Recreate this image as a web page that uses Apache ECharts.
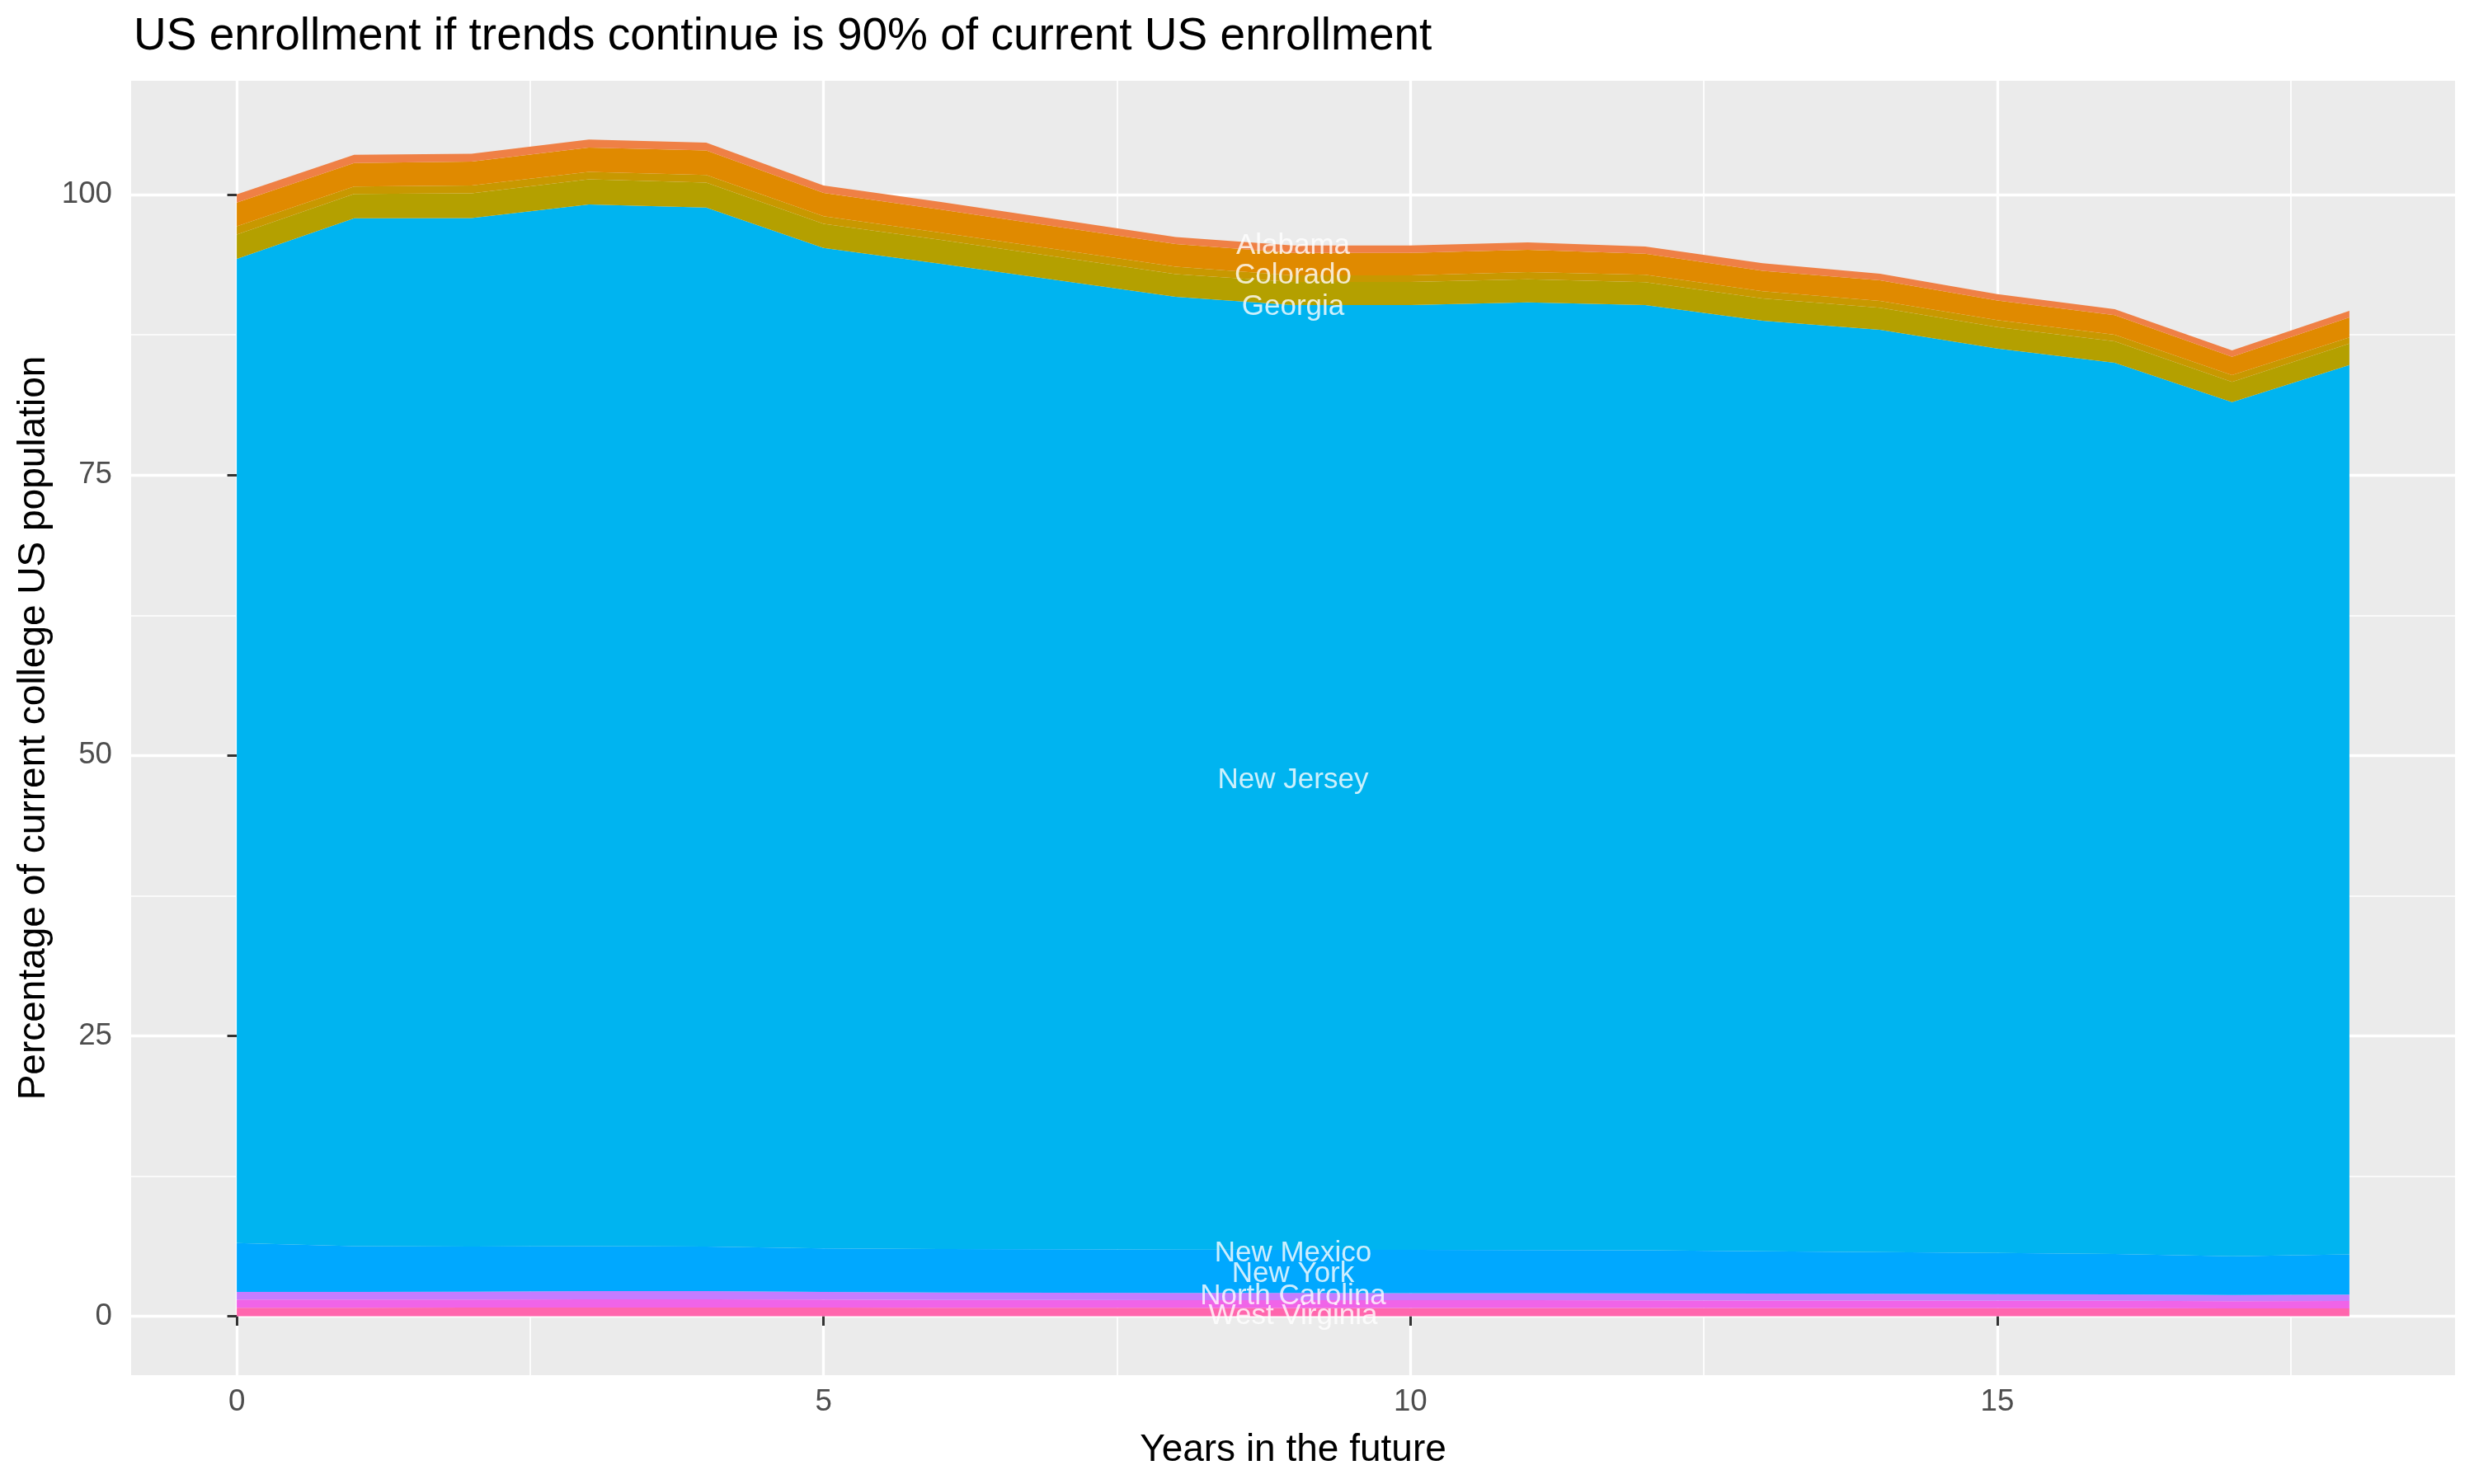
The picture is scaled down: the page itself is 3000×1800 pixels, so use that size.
<!DOCTYPE html>
<html>
<head>
<meta charset="utf-8">
<script src="https://cdn.jsdelivr.net/npm/echarts@6/dist/echarts.min.js"></script>
<style>
html,body{margin:0;padding:0;background:#fff;}
#chart{width:3000px;height:1800px;}
</style>
</head>
<body>
<div id="chart"></div>
<script>
// ---- data ----
const years = [0,1,2,3,4,5,6,7,8,9,10,11,12,13,14,15,16,17,18];

// stacked bands, bottom to top
const westVirginia  = [0.76,0.76,0.77,0.78,0.78,0.77,0.76,0.75,0.75,0.74,0.74,0.74,0.74,0.73,0.73,0.72,0.72,0.70,0.71];
const northCarolina = [0.73,0.73,0.73,0.74,0.74,0.72,0.70,0.70,0.69,0.70,0.69,0.69,0.68,0.68,0.67,0.67,0.66,0.65,0.66];
const newYork       = [0.69,0.69,0.70,0.73,0.73,0.69,0.66,0.65,0.64,0.64,0.64,0.63,0.63,0.61,0.60,0.59,0.58,0.55,0.56];
const newMexico     = [4.34,4.07,4.02,4.00,3.97,3.87,3.88,3.87,3.87,3.85,3.85,3.84,3.83,3.78,3.72,3.67,3.59,3.45,3.58];
const newJersey     = [87.75,91.64,91.70,92.87,92.63,89.20,87.84,86.40,84.94,84.22,84.23,84.50,84.27,82.96,82.23,80.63,79.46,76.16,79.30];
const georgia       = [2.18,2.18,2.20,2.25,2.23,2.15,2.12,2.07,2.03,2.06,2.06,2.06,2.04,1.98,1.96,1.91,1.91,1.79,1.91];
const colorado      = [0.73,0.66,0.69,0.66,0.68,0.67,0.64,0.66,0.66,0.59,0.59,0.63,0.66,0.64,0.61,0.62,0.59,0.61,0.55];
const unlabeled     = [2.11,2.08,2.13,2.16,2.18,2.08,2.07,2.03,2.01,2.01,2.01,1.99,1.88,1.83,1.84,1.76,1.74,1.64,1.78];
const alabama       = [0.73,0.74,0.71,0.73,0.69,0.66,0.68,0.65,0.64,0.66,0.66,0.66,0.64,0.67,0.59,0.56,0.54,0.56,0.59];

const seriesNames  = ['West Virginia','North Carolina','New York','New Mexico','New Jersey','Georgia','Colorado','(unlabeled)','Alabama'];
const seriesValues = [westVirginia,northCarolina,newYork,newMexico,newJersey,georgia,colorado,unlabeled,alabama];
const seriesColors = ['#FF66AD','#F064E8','#C57CFF','#00A8FF','#00B4F0','#B4A000','#C89800','#E08A00','#EF8045'];

// in-plot text labels
const labelNames = ['Alabama','Colorado','Georgia','New Jersey','New Mexico','New York','North Carolina','West Virginia'];
const labelY     = [95.4, 92.8, 90.0, 47.8, 5.6, 3.8, 1.8, 0.0];
const labelX     = 9;

// axes
const xTicks = [0,5,10,15];
const xMinor = [2.5,7.5,12.5,17.5];
const yTicks = [0,25,50,75,100];
const yMinor = [12.5,37.5,62.5,87.5];

const FONT = '"Liberation Sans", Arial, Helvetica, sans-serif';

const chart = echarts.init(document.getElementById('chart'));

// value first, year second: the stack is applied to the first numeric dimension (y)
const series = seriesNames.map((n,i)=>({
  name:n, type:'line', stack:'total', symbol:'none', silent:true,
  xAxisIndex:0, yAxisIndex:0,
  encode:{x:1, y:0},
  lineStyle:{width:0}, areaStyle:{color:seriesColors[i], opacity:1},
  itemStyle:{color:seriesColors[i]},
  data: years.map((x,j)=>[seriesValues[i][j], x]),
  z:2
}));

series.push({
  type:'scatter', xAxisIndex:0, yAxisIndex:0, symbol:'circle', symbolSize:2,
  itemStyle:{color:'rgba(0,0,0,0)'}, silent:true, z:10,
  data: labelNames.map((n,i)=>({name:n, value:[labelX, labelY[i]]})),
  label:{show:true, position:'inside', formatter:'{b}', color:'#ffffff',
         fontFamily:FONT, fontSize:35},
  labelLayout:{hideOverlap:false}
});

chart.setOption({
  animation:false,
  backgroundColor:'#ffffff',
  title:{
    text:'US enrollment if trends continue is 90% of current US enrollment',
    left:157, top:12,
    textStyle:{fontFamily:FONT, fontSize:55, fontWeight:'normal', color:'#000'}
  },
  grid:{left:159, right:23, top:98, bottom:132, show:true, backgroundColor:'#EBEBEB', borderWidth:0},
  xAxis:[{
    type:'value', min:-0.9, max:18.9, position:'bottom',
    name:'Years in the future', nameLocation:'middle', nameGap:68,
    nameTextStyle:{fontFamily:FONT, fontSize:46, color:'#000'},
    axisLine:{show:false},
    axisTick:{show:true, length:11.5, lineStyle:{color:'#333333', width:3}, customValues:xTicks},
    axisLabel:{customValues:xTicks, fontFamily:FONT, fontSize:36.7, color:'#4D4D4D', margin:14},
    splitLine:{show:true, lineStyle:{color:'#ffffff', width:3.3}}
  },{
    type:'value', min:-0.9, max:18.9, position:'bottom',
    axisLine:{show:false},
    axisTick:{show:false, customValues:xMinor},
    axisLabel:{show:false, customValues:xMinor},
    splitLine:{show:true, lineStyle:{color:'#ffffff', width:1.7}}
  }],
  yAxis:[{
    type:'value', min:-5.25, max:110.15, position:'left',
    name:'Percentage of current college US population', nameLocation:'middle', nameGap:95, nameRotate:90,
    nameTextStyle:{fontFamily:FONT, fontSize:46, color:'#000'},
    axisLine:{show:false},
    axisTick:{show:true, length:11.5, lineStyle:{color:'#333333', width:3}, customValues:yTicks},
    axisLabel:{customValues:yTicks, fontFamily:FONT, fontSize:36.7, color:'#4D4D4D', margin:23},
    splitLine:{show:true, lineStyle:{color:'#ffffff', width:3.3}}
  },{
    type:'value', min:-5.25, max:110.15, position:'left',
    axisLine:{show:false},
    axisTick:{show:false, customValues:yMinor},
    axisLabel:{show:false, customValues:yMinor},
    splitLine:{show:true, lineStyle:{color:'#ffffff', width:1.7}}
  }],
  series: series
});
</script>
</body>
</html>
